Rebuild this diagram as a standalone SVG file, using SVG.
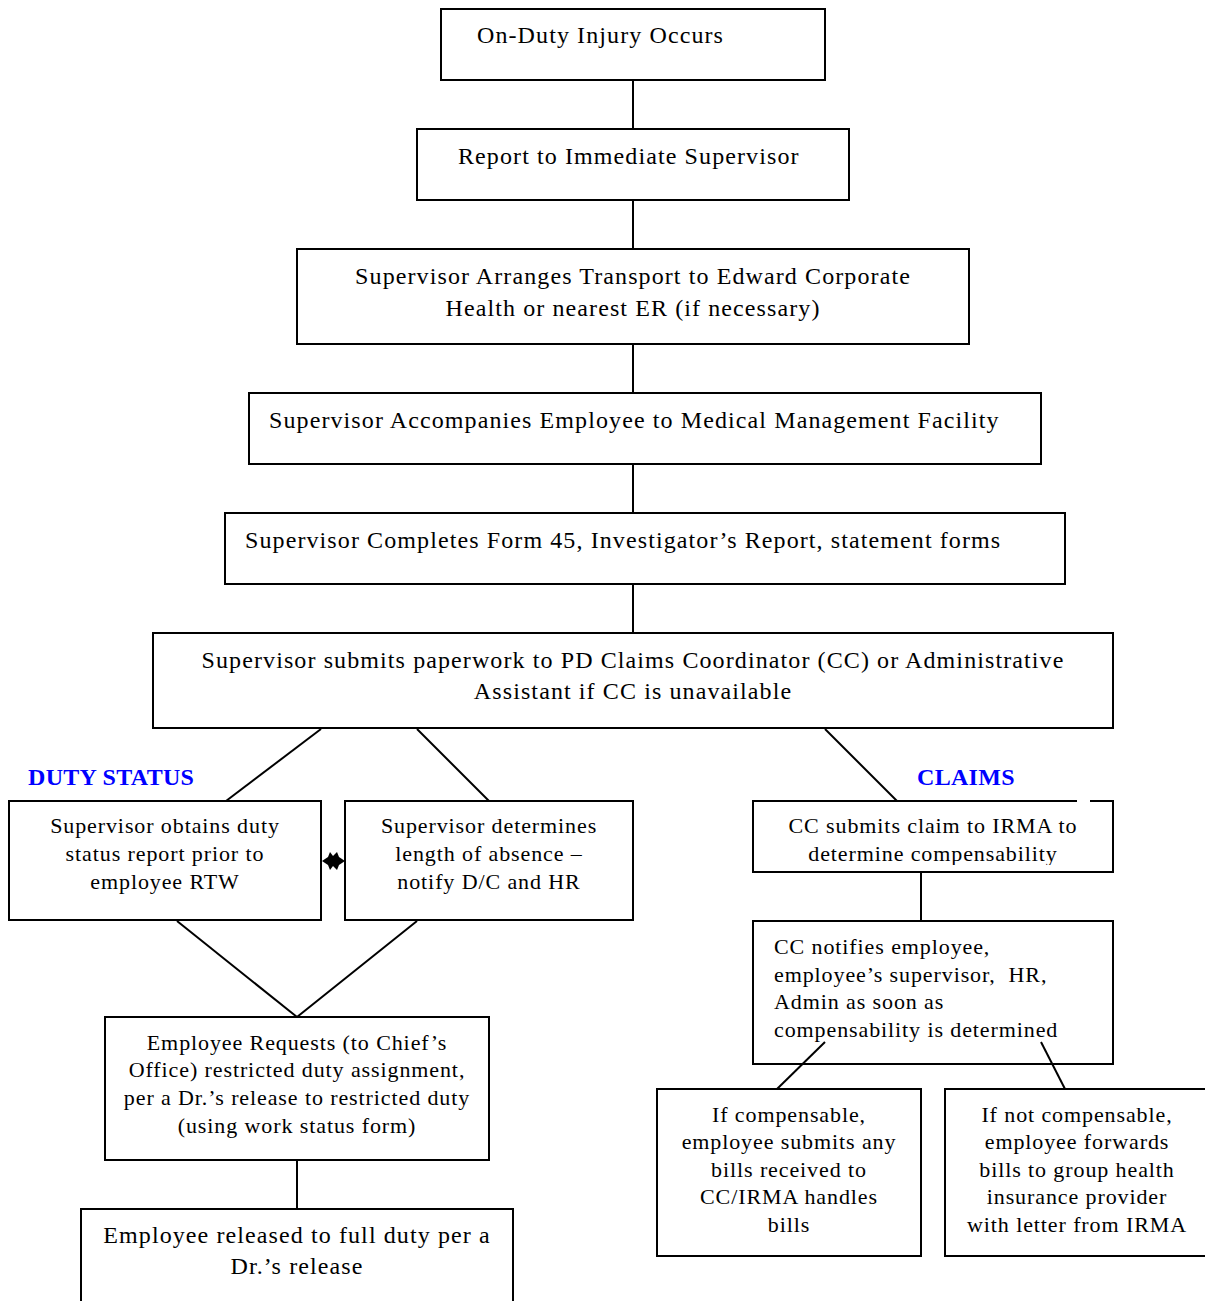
<svg xmlns="http://www.w3.org/2000/svg" width="1205" height="1301" viewBox="0 0 1205 1301">
<style>
.box{fill:#fff;stroke:#000;stroke-width:2}
.ln{stroke:#000;stroke-width:2;fill:none}
.t{font-family:"Liberation Serif","Times New Roman",serif;font-size:24px;letter-spacing:1.1px;fill:#000}
.s{font-family:"Liberation Serif","Times New Roman",serif;font-size:22px;letter-spacing:0.9px;fill:#000}
.c{text-anchor:middle}
.h{font-family:"Liberation Serif","Times New Roman",serif;font-size:24px;letter-spacing:0.3px;font-weight:bold;fill:#0000ff}
</style>
<rect width="1205" height="1301" fill="#fff"/>
<g id="n1"><rect class="box" x="441" y="9" width="384" height="71"/><text class="t" x="477" y="43">On-Duty Injury Occurs</text></g>
<g id="n2"><rect class="box" x="417" y="129" width="432" height="71"/><text class="t" x="458" y="164">Report to Immediate Supervisor</text></g>
<g id="n3"><rect class="box" x="297" y="249" width="672" height="95"/><text class="t c" x="633" y="284">Supervisor Arranges Transport to Edward Corporate</text><text class="t c" x="633" y="316">Health or nearest ER (if necessary)</text></g>
<g id="n4"><rect class="box" x="249" y="393" width="792" height="71"/><text class="t" x="269" y="428">Supervisor Accompanies Employee to Medical Management Facility</text></g>
<g id="n5"><rect class="box" x="225" y="513" width="840" height="71"/><text class="t" x="245" y="548">Supervisor Completes Form 45, Investigator’s Report, statement forms</text></g>
<g id="n6"><rect class="box" x="153" y="633" width="960" height="95"/><text class="t c" x="633" y="668">Supervisor submits paperwork to PD Claims Coordinator (CC) or Administrative</text><text class="t c" x="633" y="699">Assistant if CC is unavailable</text></g>
<text class="h" x="28" y="785">DUTY STATUS</text>
<text class="h" x="917" y="785">CLAIMS</text>
<g id="n7"><rect class="box" x="9" y="801" width="312" height="119"/><text class="s c" x="165" y="833">Supervisor obtains duty</text><text class="s c" x="165" y="861">status report prior to</text><text class="s c" x="165" y="889">employee RTW</text></g>
<g id="n8"><rect class="box" x="345" y="801" width="288" height="119"/><text class="s c" x="489" y="833">Supervisor determines</text><text class="s c" x="489" y="861">length of absence –</text><text class="s c" x="489" y="889">notify D/C and HR</text></g>
<g id="n9"><rect class="box" x="105" y="1017" width="384" height="143"/><text class="s c" x="297" y="1050">Employee Requests (to Chief’s</text><text class="s c" x="297" y="1077">Office) restricted duty assignment,</text><text class="s c" x="297" y="1105">per a Dr.’s release to restricted duty</text><text class="s c" x="297" y="1133">(using work status form)</text></g>
<g id="n10"><rect class="box" x="81" y="1209" width="432" height="100"/><text class="t c" x="297" y="1243">Employee released to full duty per a</text><text class="t c" x="297" y="1274">Dr.’s release</text></g>
<g id="n11"><rect x="753" y="801" width="360" height="71" fill="#fff"/><text class="s c" x="933" y="833">CC submits claim to IRMA to</text><text class="s c" x="933" y="861">determine compensability</text><rect x="754" y="865" width="358" height="6" fill="#fff"/><path class="ln" d="M1077,801 H753 V872 H1113 V801 H1090"/></g>
<g id="n12"><rect class="box" x="753" y="921" width="360" height="143"/><text class="s" x="774" y="954">CC notifies employee,</text><text class="s" x="774" y="982" xml:space="preserve">employee’s supervisor,  HR,</text><text class="s" x="774" y="1009">Admin as soon as</text><text class="s" x="774" y="1037">compensability is determined</text></g>
<g id="n13"><rect class="box" x="657" y="1089" width="264" height="167"/><text class="s c" x="789" y="1122">If compensable,</text><text class="s c" x="789" y="1149">employee submits any</text><text class="s c" x="789" y="1177">bills received to</text><text class="s c" x="789" y="1204">CC/IRMA handles</text><text class="s c" x="789" y="1232">bills</text></g>
<g id="n14"><rect class="box" x="945" y="1089" width="270" height="167"/><text class="s c" x="1077" y="1122">If not compensable,</text><text class="s c" x="1077" y="1149">employee forwards</text><text class="s c" x="1077" y="1177">bills to group health</text><text class="s c" x="1077" y="1204">insurance provider</text><text class="s c" x="1077" y="1232">with letter from IRMA</text></g>
<g id="connectors">
<line class="ln" x1="633" y1="81" x2="633" y2="129"/>
<line class="ln" x1="633" y1="201" x2="633" y2="249"/>
<line class="ln" x1="633" y1="345" x2="633" y2="393"/>
<line class="ln" x1="633" y1="465" x2="633" y2="513"/>
<line class="ln" x1="633" y1="585" x2="633" y2="633"/>
<line class="ln" x1="321" y1="729" x2="226" y2="801"/>
<line class="ln" x1="417" y1="729" x2="489" y2="801"/>
<line class="ln" x1="825" y1="729" x2="897" y2="801"/>
<line class="ln" x1="177" y1="921" x2="297" y2="1017"/>
<line class="ln" x1="417" y1="921" x2="297" y2="1017"/>
<line class="ln" x1="297" y1="1161" x2="297" y2="1209"/>
<line class="ln" x1="921" y1="873" x2="921" y2="921"/>
<line class="ln" x1="825" y1="1042" x2="777" y2="1089"/>
<line class="ln" x1="1041" y1="1042" x2="1065" y2="1089"/>
<polygon points="322,861 328,857 330,852 333,856 337,852 339,857 345,861 339,865 337,870 333,866 330,870 328,865" fill="#000"/>
</g>
</svg>
